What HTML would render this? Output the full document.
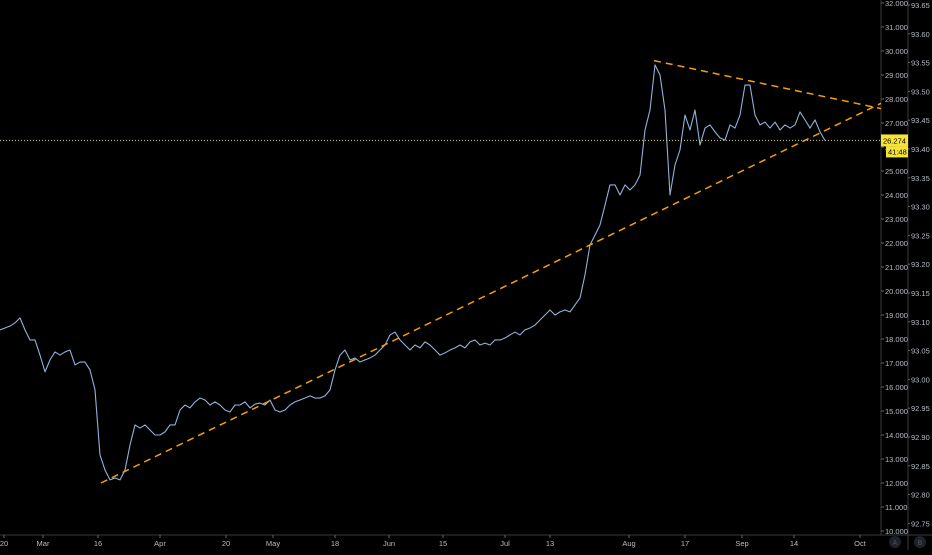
<!DOCTYPE html>
<html><head><meta charset="utf-8"><style>
body{margin:0;background:#000;width:932px;height:550px;overflow:hidden;font-family:"Liberation Sans",sans-serif}
svg text{font-family:"Liberation Sans",sans-serif;font-size:7.5px;fill:#b8bcc6}
</style></head><body>
<svg id="c" width="932" height="550" xmlns="http://www.w3.org/2000/svg">
<rect width="932" height="550" fill="#000"/>
</svg>
<script>
const prices=[18.38,18.46,18.54,18.67,18.88,18.38,17.96,17.96,17.33,16.63,17.13,17.46,17.33,17.46,17.54,16.92,17.04,17.04,16.71,15.88,13.17,12.54,12.13,12.21,12.13,12.54,13.58,14.42,14.29,14.42,14.21,14.00,14.00,14.13,14.42,14.42,15.04,15.25,15.13,15.38,15.54,15.46,15.25,15.38,15.25,15.04,14.96,15.25,15.25,15.38,15.13,15.29,15.33,15.25,15.46,15.04,14.96,15.04,15.25,15.38,15.46,15.54,15.63,15.54,15.54,15.63,15.88,16.71,17.33,17.54,17.13,17.21,17.04,17.13,17.21,17.33,17.54,17.75,18.17,18.29,17.96,17.75,17.54,17.75,17.63,17.88,17.75,17.54,17.33,17.42,17.54,17.63,17.75,17.63,17.88,17.96,17.75,17.83,17.75,17.96,17.96,18.04,18.17,18.29,18.17,18.38,18.46,18.58,18.79,19.00,19.21,19.00,19.13,19.21,19.13,19.42,19.71,20.67,21.92,22.33,22.75,23.58,24.42,24.42,24.00,24.42,24.21,24.42,24.83,26.71,27.54,29.42,29.00,27.54,24.00,25.25,25.88,27.33,26.71,27.54,26.08,26.79,26.92,26.63,26.38,26.29,26.92,26.79,27.33,28.58,28.58,27.33,26.92,27.04,26.79,27.04,26.71,26.92,26.79,26.92,27.46,27.13,26.79,27.13,26.63,26.27];
const leftTicks=[32,31,30,29,28,27,26,25,24,23,22,21,20,19,18,17,16,15,14,13,12,11,10];
const rightTicks=[93.65,93.60,93.55,93.50,93.45,93.40,93.35,93.30,93.25,93.20,93.15,93.10,93.05,93.00,92.95,92.90,92.85,92.80,92.75];
const xLabels=["20","Mar","16","Apr","20","May","18","Jun","15","Jul","13","Aug","17","Sep","14","Oct"];
const xLabelIdx=[0.8,8.6,19.6,32,45.2,54.6,67,77.8,88.6,101,110,125.8,137,148.4,158.8,172];
const lowerTrend=[[20.2,12.0],[176.2,27.82]];
const upperTrend=[[130.8,29.6],[176.2,27.6]];
const lastPrice=26.274;
const NS="http://www.w3.org/2000/svg",svg=document.getElementById('c');
const y=v=>3+(32-v)*24, x=i=>i*5, y2=v=>5+(93.65-v)/0.05*28.8;
function mk(t,a,p){const e=document.createElementNS(NS,t);for(const k in a)e.setAttribute(k,a[k]);(p||svg).appendChild(e);return e;}
let e=mk('line',{x1:881,y1:0,x2:881,y2:535,stroke:'#3a3a3a'});


e=mk('line',{x1:908,y1:0,x2:908,y2:550,stroke:'#3a3a3a'});


e=mk('line',{x1:0,y1:535,x2:932,y2:535,stroke:'#3a3a3a'});


leftTicks.forEach(v=>{const t=mk('text',{x:885,y:y(v)+3});t.textContent=v.toFixed(3);


mk('line',{x1:881,y1:y(v),x2:884,y2:y(v),stroke:'#666'});});
rightTicks.forEach(v=>{const t=mk('text',{x:911,y:y2(v)+3});t.textContent=v.toFixed(2);


mk('line',{x1:908,y1:y2(v),x2:910,y2:y2(v),stroke:'#666'});});
xLabels.forEach((l,k)=>{const px=x(xLabelIdx[k]);const t=mk('text',{x:px,y:546,'text-anchor':'middle'});t.textContent=l;


mk('line',{x1:px,y1:535,x2:px,y2:538,stroke:'#666'});});
e=mk('polyline',{points:prices.map((v,i)=>x(i)+','+y(v)).join(' '),fill:'none',stroke:'#8fb3dc','stroke-width':1.1,'stroke-linejoin':'round'});


[[lowerTrend,'lower-trend-line'],[upperTrend,'upper-trend-line']].forEach(([tr,n])=>{
const l=mk('line',{x1:x(tr[0][0]),y1:y(tr[0][1]),x2:x(tr[1][0]),y2:y(tr[1][1]),stroke:'#f5a000','stroke-width':1.5,'stroke-dasharray':'7 5'});

});
e=mk('line',{x1:0,y1:y(lastPrice),x2:881,y2:y(lastPrice),stroke:'#e8d44d','stroke-dasharray':'1 2'});


const g=mk('g',{});


mk('rect',{x:881,y:y(lastPrice)-6,width:27,height:12,fill:'#f5e33b'},g);
let t=mk('text',{x:883,y:y(lastPrice)+3,style:'fill:#000'},g);t.textContent=lastPrice.toFixed(3);
mk('rect',{x:886,y:y(lastPrice)+6,width:22,height:11,fill:'#f5e33b'},g);
t=mk('text',{x:888,y:y(lastPrice)+14,style:'fill:#000'},g);t.textContent='41:48';
[['A',895,'auto-scale-button'],['B',920,'log-scale-button']].forEach(([s,cx,n])=>{
const b=mk('g',{});


mk('circle',{cx:cx,cy:542,r:6,fill:'#1e222d'},b);
const tt=mk('text',{x:cx,y:545,'text-anchor':'middle',style:'fill:#555;font-size:7px'},b);tt.textContent=s;});
</script>
</body></html>
